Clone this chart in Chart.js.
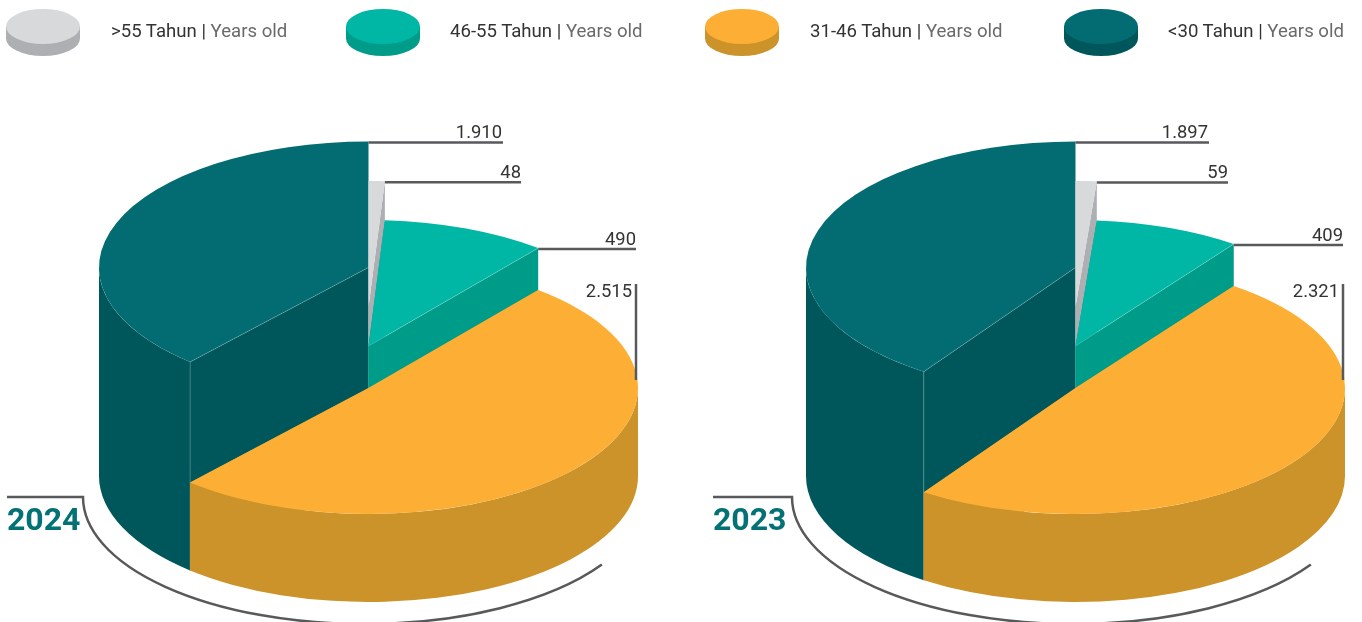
<!DOCTYPE html>
<html>
<head>
<meta charset="utf-8">
<script src="https://cdn.jsdelivr.net/npm/chart.js@4"></script>
<style>
    html, body { margin: 0; padding: 0; background: #fff; overflow: hidden; }
    body { width: 1362px; height: 622px; position: relative; font-family: Roboto, sans-serif; }
    canvas { position: absolute; top: 0; }
    #chart2024 { left: 0; }
    #chart2023 { left: 680px; }
    .legend-icon { position: absolute; top: 9px; }
    .legend-text { position: absolute; top: 21px; font-size: 18.6px; line-height: 21px; color: #333; white-space: nowrap; }
    .legend-text span { color: #6a6a6a; }
</style>
</head>
<body>
<canvas id="chart2024" width="680" height="622"></canvas>
<canvas id="chart2023" width="682" height="622"></canvas>
<div id="legend"></div>

<script>
/*************************************************
 * Data
 *************************************************/
const categories = [">55 Tahun", "46-55 Tahun", "31-46 Tahun", "<30 Tahun"];
const values2024 = [48, 490, 2515, 1910];
const values2023 = [59, 409, 2321, 1897];

const topColors = ["#d7d9db", "#00b7a5", "#fdaf35", "#026c72"];
const sideColors = ["#adafb2", "#009c8a", "#cc932b", "#00575b"];

/*************************************************
 * Legend
 *************************************************/
const legendIconX = [6, 346, 705, 1064];
const legendTextX = [111, 450, 810, 1168];

document.getElementById("legend").innerHTML = categories.map((c, i) => `
    <svg class="legend-icon" style="left:${legendIconX[i]}px" width="74" height="48">
        <path d="M0 17.5 v12 a37 17.5 0 0 0 74 0 v-12 z" fill="${sideColors[i]}"/>
        <ellipse cx="37" cy="17.5" rx="37" ry="17.5" fill="${topColors[i]}"/>
    </svg>
    <div class="legend-text" style="left:${legendTextX[i]}px">${c.replace("<", "&lt;")} | <span>Years old</span></div>
`).join("");

/*************************************************
 * 3D pie plugin
 *************************************************/
const SQUASH = 126 / 269.5;
const BASE_Y = 476;
const TOP_Y = [307, 346, 388, 267.5];   // height of each slice's top face at the centre
const DRAW_ORDER = [3, 0, 1, 2];
const LINE_COLOR = "#58595b";

function rimPoint(arc, cy, angle) {
    return {
        x: arc.x + Math.cos(angle) * arc.outerRadius,
        y: cy + Math.sin(angle) * arc.outerRadius * SQUASH
    };
}

function drawFace(ctx, arc, angle, topY, color) {
    const rim = rimPoint(arc, topY, angle);
    const rimBottom = rimPoint(arc, BASE_Y, angle);
    ctx.fillStyle = color;
    ctx.beginPath();
    ctx.moveTo(arc.x, topY);
    ctx.lineTo(rim.x, rim.y);
    ctx.lineTo(rimBottom.x, rimBottom.y);
    ctx.lineTo(arc.x, BASE_Y);
    ctx.closePath();
    ctx.fill();
}

function drawWall(ctx, arc, topY, color) {
    // only the part of the rim that faces the viewer
    const from = Math.max(arc.startAngle, 0);
    const to = Math.min(arc.endAngle, Math.PI);
    if (to <= from) return;
    const rx = arc.outerRadius, ry = rx * SQUASH;
    ctx.fillStyle = color;
    ctx.beginPath();
    ctx.ellipse(arc.x, topY, rx, ry, 0, from, to);
    ctx.ellipse(arc.x, BASE_Y, rx, ry, 0, to, from, true);
    ctx.closePath();
    ctx.fill();
}

function drawEdge(ctx, x1, y1, x2, y2) {
    ctx.strokeStyle = "rgba(255,255,255,0.2)";
    ctx.lineWidth = 1;
    ctx.beginPath();
    ctx.moveTo(x1, y1);
    ctx.lineTo(x2, y2);
    ctx.stroke();
}

const pie3d = {
    id: "pie3d",
    beforeDatasetsDraw(chart) {
        const ctx = chart.ctx;
        const arcs = chart.getDatasetMeta(0).data;

        DRAW_ORDER.forEach(i => {
            const arc = arcs[i];
            const topY = TOP_Y[i];

            drawFace(ctx, arc, arc.startAngle, topY, sideColors[i]);
            drawFace(ctx, arc, arc.endAngle, topY, sideColors[i]);
            drawWall(ctx, arc, topY, sideColors[i]);

            ctx.save();
            ctx.translate(arc.x, topY);
            ctx.scale(1, SQUASH);
            ctx.translate(-arc.x, -arc.y);
            arc.draw(ctx);
            ctx.restore();

            // thin light seams where the top meets the walls
            if (i === 1) {
                const p = rimPoint(arc, topY, arc.endAngle);
                drawEdge(ctx, arc.x, topY, p.x, p.y);
            }
            if (i === 3) {
                const p = rimPoint(arc, topY, arc.startAngle);
                const q = rimPoint(arc, BASE_Y, arc.startAngle);
                drawEdge(ctx, arc.x, topY, p.x, p.y);
                drawEdge(ctx, p.x, p.y, q.x, q.y);
            }
        });
        return false;
    },
    afterDraw(chart) {
        const o = chart.options.plugins.pie3d;
        const ctx = chart.ctx;
        const arcs = chart.getDatasetMeta(0).data;
        const values = chart.data.datasets[0].data;
        const fmt = v => v.toLocaleString("de-DE");
        const cx = arcs[0].x;

        ctx.save();
        ctx.strokeStyle = LINE_COLOR;
        ctx.lineWidth = 2.5;
        ctx.font = "18.4px Roboto";
        ctx.fillStyle = "#333";
        ctx.textAlign = "right";
        ctx.textBaseline = "alphabetic";

        // <30: from the back of the top face
        const darkTop = rimPoint(arcs[3], TOP_Y[3], -Math.PI / 2);
        hline(ctx, darkTop.x, darkTop.y + 1, o.ends[0]);
        ctx.fillText(fmt(values[3]), o.ends[0] - 1, darkTop.y - 4);

        // >55
        const gray = rimPoint(arcs[0], TOP_Y[0], arcs[0].endAngle);
        hline(ctx, gray.x, gray.y + 1, o.ends[1]);
        ctx.fillText(fmt(values[0]), o.ends[1], gray.y - 3);

        // 46-55
        const green = rimPoint(arcs[1], TOP_Y[1], arcs[1].endAngle);
        hline(ctx, green.x, green.y + 1, o.ends[2]);
        ctx.fillText(fmt(values[1]), o.ends[2], green.y - 3);

        // 31-46: vertical leader
        ctx.beginPath();
        ctx.moveTo(o.ends[2], 284);
        ctx.lineTo(o.ends[2], 380);
        ctx.stroke();
        ctx.fillText(fmt(values[2]), o.ends[2] - 4, 296.5);

        // year bracket and the curve under the pie
        const curveX = cx + o.curveDx;
        const curveRx = 281, curveRy = 127, curveY = 497;
        ctx.beginPath();
        ctx.moveTo(o.yearX, curveY);
        ctx.lineTo(curveX - curveRx, curveY);
        ctx.ellipse(curveX, curveY, curveRx, curveRy, 0, Math.PI, 0.5613, true);
        ctx.stroke();

        ctx.font = "bold 32px Roboto";
        ctx.fillStyle = "#047274";
        ctx.textAlign = "left";
        ctx.fillText(o.year, o.yearX, 530);
        ctx.restore();
    }
};

function hline(ctx, x1, y, x2) {
    ctx.beginPath();
    ctx.moveTo(x1, y);
    ctx.lineTo(x2, y);
    ctx.stroke();
}

/*************************************************
 * Charts
 *************************************************/
function renderPie(id, values, padding, opts) {
    return new Chart(document.getElementById(id), {
        type: "pie",
        data: {
            labels: categories,
            datasets: [{ data: values, backgroundColor: topColors, borderWidth: 0 }]
        },
        options: {
            responsive: false,
            animation: false,
            layout: { padding },
            plugins: {
                legend: { display: false },
                tooltip: { enabled: false },
                pie3d: opts
            }
        },
        plugins: [pie3d]
    });
}

renderPie("chart2024", values2024,
    { left: 99, right: 42, top: 41.5, bottom: 41.5 },
    { ends: [503, 521, 636], year: "2024", yearX: 7, curveDx: -4.5 });

renderPie("chart2023", values2023,
    { left: 126, right: 17, top: 41.5, bottom: 41.5 },
    { ends: [529, 548, 663], year: "2023", yearX: 33, curveDx: -2.5 });
</script>
</body>
</html>
